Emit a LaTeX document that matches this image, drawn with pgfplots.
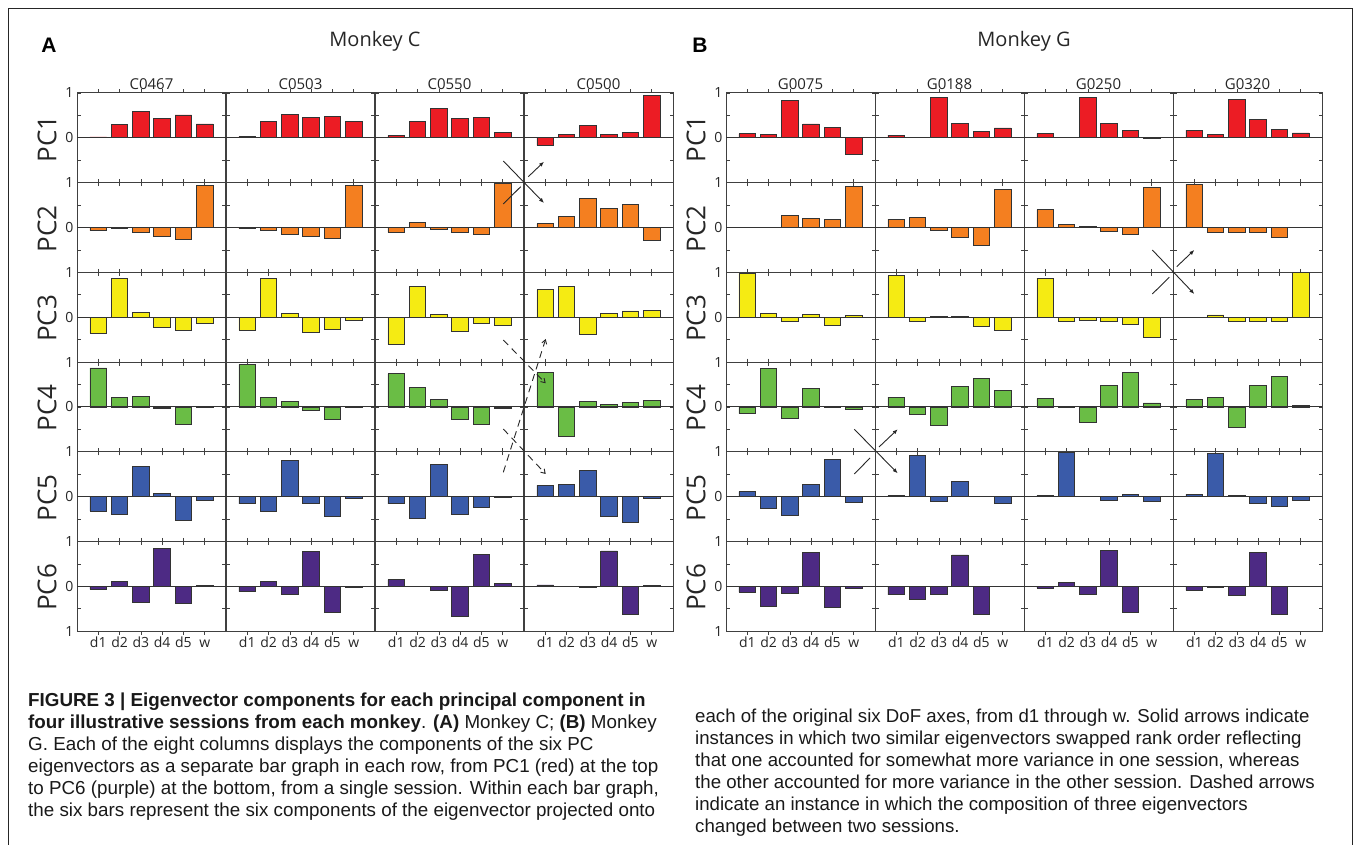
\documentclass[border=0pt]{standalone}
\usepackage{fontspec}
\setmainfont{Open Sans}
\newfontfamily\capfont{Liberation Sans}
\usepackage{pgfplots}
\pgfplotsset{compat=1.18}
\usepackage{pgfplotstable}
\usetikzlibrary{arrows.meta}

\definecolor{pc1}{HTML}{EC1C24}
\definecolor{pc2}{HTML}{F47F20}
\definecolor{pc3}{HTML}{F5EB13}
\definecolor{pc4}{HTML}{6ABD45}
\definecolor{pc5}{HTML}{3A5BA9}
\definecolor{pc6}{HTML}{4D2A84}
\definecolor{edgec}{HTML}{333333}

\newcommand\ticfont{\fontsize{14}{16}\selectfont}
\newcommand\titfont{\fontsize{15}{18}\selectfont}
\newcommand\pcfont{\fontsize{26}{30}\selectfont}
\newcommand\monfont{\fontsize{20}{24}\selectfont}
\newcommand\abfont{\capfont\bfseries\fontsize{21}{24}\selectfont}
\newcommand\capf{\capfont\fontsize{18.8}{22}\selectfont}
\newcommand\capg{\capfont\fontsize{18.65}{22}\selectfont}

% columns: x=d1..w (1..6), pc1..pc6
\pgfplotstableread{
x pc1 pc2 pc3 pc4 pc5 pc6
1 0.02 -0.07 -0.36 0.87 -0.32 -0.07
2 0.30 -0.01 0.86 0.22 -0.40 0.10
3 0.59 -0.11 0.10 0.24 0.68 -0.35
4 0.43 -0.19 -0.22 -0.04 0.07 0.85
5 0.51 -0.26 -0.29 -0.39 -0.54 -0.39
6 0.31 0.94 -0.13 -0.01 -0.09 0.02
}\tCa
\pgfplotstableread{
x pc1 pc2 pc3 pc4 pc5 pc6
1 0.03 -0.03 -0.29 0.95 -0.16 -0.12
2 0.37 -0.06 0.86 0.21 -0.34 0.10
3 0.53 -0.16 0.08 0.12 0.80 -0.19
4 0.46 -0.20 -0.33 -0.07 -0.14 0.78
5 0.48 -0.25 -0.28 -0.27 -0.45 -0.59
6 0.36 0.93 -0.08 -0.02 -0.04 -0.03
}\tCb
\pgfplotstableread{
x pc1 pc2 pc3 pc4 pc5 pc6
1 0.05 -0.11 -0.61 0.74 -0.16 0.15
2 0.37 0.11 0.68 0.44 -0.48 0.00
3 0.66 -0.04 0.07 0.16 0.72 -0.08
4 0.44 -0.10 -0.31 -0.28 -0.40 -0.67
5 0.46 -0.16 -0.14 -0.39 -0.25 0.72
6 0.13 0.98 -0.19 -0.04 -0.02 0.07
}\tCc
\pgfplotstableread{
x pc1 pc2 pc3 pc4 pc5 pc6
1 -0.17 0.09 0.61 0.76 0.25 0.03
2 0.08 0.25 0.68 -0.65 0.28 0.00
3 0.27 0.65 -0.39 0.12 0.58 -0.02
4 0.07 0.42 0.09 0.05 -0.45 0.79
5 0.12 0.52 0.14 0.10 -0.57 -0.62
6 0.94 -0.29 0.16 0.14 -0.04 0.02
}\tCd
\pgfplotstableread{
x pc1 pc2 pc3 pc4 pc5 pc6
1 0.09 0.00 0.98 -0.15 0.11 -0.13
2 0.07 0.01 0.09 0.86 -0.27 -0.44
3 0.83 0.26 -0.09 -0.26 -0.41 -0.16
4 0.31 0.20 0.06 0.42 0.28 0.76
5 0.24 0.19 -0.18 0.01 0.83 -0.47
6 -0.38 0.92 0.03 -0.05 -0.13 -0.05
}\tGa
\pgfplotstableread{
x pc1 pc2 pc3 pc4 pc5 pc6
1 0.06 0.19 0.93 0.22 0.02 -0.19
2 0.01 0.22 -0.09 -0.17 0.92 -0.29
3 0.90 -0.07 0.01 -0.41 -0.11 -0.17
4 0.33 -0.23 0.02 0.46 0.34 0.70
5 0.15 -0.39 -0.21 0.64 0.00 -0.63
6 0.22 0.85 -0.30 0.37 -0.16 0.00
}\tGb
\pgfplotstableread{
x pc1 pc2 pc3 pc4 pc5 pc6
1 0.10 0.40 0.87 0.19 0.03 -0.04
2 0.01 0.07 -0.09 0.01 0.99 0.09
3 0.91 0.02 -0.07 -0.35 0.01 -0.18
4 0.32 -0.09 -0.10 0.48 -0.09 0.80
5 0.16 -0.16 -0.16 0.77 0.04 -0.58
6 -0.01 0.89 -0.45 0.09 -0.10 -0.01
}\tGc
\pgfplotstableread{
x pc1 pc2 pc3 pc4 pc5 pc6
1 0.17 0.96 -0.01 0.16 0.05 -0.09
2 0.07 -0.11 0.05 0.22 0.96 -0.03
3 0.86 -0.10 -0.09 -0.46 0.02 -0.20
4 0.41 -0.10 -0.09 0.48 -0.14 0.76
5 0.19 -0.22 -0.09 0.68 -0.22 -0.63
6 0.11 0.00 0.99 0.04 -0.09 0.00
}\tGd

\pgfplotsset{
  cell/.style={
    scale only axis, width=149pt, height=89.7pt, anchor=north west,
    xmin=0, xmax=7, ymin=-1, ymax=1,
    xtick={1,2,3,4,5,6}, ytick={-1,-0.5,0,0.5,1},
    tick align=inside, major tick length=3.5pt,
    every tick/.style={black!75, line width=0.7pt},
    axis line style={black!75, line width=1pt},
    ybar, bar width=0.78, bar shift=0pt,
    ticklabel style={font=\ticfont, text=black!85},
    xticklabel style={text height=1.5ex, text depth=0.25ex, yshift=-1pt},
  },
}

\newcommand\session[4]{%
  \foreach \r in {1,...,6}{%
    \pgfmathsetmacro\ytop{752-89.7*(\r-1)}%
    \ifnum#4=1 \def\ylabs{{},{},0,{},1}\else\def\ylabs{{},{},{},{},{}}\fi
    \ifnum\r=6
      \def\xlabs{d1,d2,d3,d4,d5,w}%
      \ifnum#4=1 \def\ylabs{1,{},0,{},1}\fi
    \else
      \def\xlabs{{},{},{},{},{},{}}%
    \fi
    \begin{axis}[cell, at={(#2pt,\ytop pt)},
        xticklabels/.expanded=\xlabs, yticklabels/.expanded=\ylabs]
      \addplot[fill=pc\r, draw=edgec, line width=0.8pt] table[x index=0, y index=\r] {#1};
      \draw[black!80, line width=0.9pt] (axis cs:0,0) -- (axis cs:7,0);
    \end{axis}
  }%
  \node[font=\titfont, text=black!85] at (#2+74.5, 761) {#3};
}

\begin{document}
\begin{tikzpicture}[x=1pt, y=1pt]
\useasboundingbox (0,0) rectangle (1354,845);
% frame
\draw[line width=1pt, black!85] (8,0) -- (8,836) -- (1352.5,836) -- (1352.5,0);

% panel A
\session{\tCa}{77}{C0467}{1}
\session{\tCb}{226}{C0503}{0}
\session{\tCc}{375}{C0550}{0}
\session{\tCd}{524}{C0500}{0}
% panel B
\session{\tGa}{726}{G0075}{1}
\session{\tGb}{875}{G0188}{0}
\session{\tGc}{1024}{G0250}{0}
\session{\tGd}{1173}{G0320}{0}

\node[font=\abfont] at (49,800) {A};
\node[font=\abfont] at (700,800) {B};
\node[font=\monfont, text=black!85] at (375,804) {Monkey C};
\node[font=\monfont, text=black!85] at (1024,804) {Monkey G};

\foreach \k in {1,...,6}{
  \pgfmathsetmacro\yc{845-139-89.7*(\k-1)}
  \node[font=\pcfont, rotate=90, text=black!85] at (47,\yc) {PC\k};
  \node[font=\pcfont, rotate=90, text=black!85] at (696,\yc) {PC\k};
}

% solid arrows (swapped rank order)
\begin{scope}[line width=0.9pt, black!85]
  \draw[-{Latex[length=5pt,width=4pt]}] (503.3,684) -- (544,642);
  \draw (503.3,641) -- (520.7,658.3);
  \draw[-{Latex[length=5pt,width=4pt]}] (528.3,668.3) -- (544,683.3);

  \draw[-{Latex[length=5pt,width=4pt]}] (1152.3,595) -- (1194.3,551);
  \draw (1152.3,551) -- (1169.3,567.7);
  \draw[-{Latex[length=5pt,width=4pt]}] (1176.7,578.3) -- (1194.3,595);

  \draw[-{Latex[length=5pt,width=4pt]}] (854.3,415.7) -- (897.7,371.7);
  \draw (854.3,371) -- (870,387);
  \draw[-{Latex[length=5pt,width=4pt]}] (879,398) -- (897.7,415.7);
\end{scope}
% dashed arrows
\begin{scope}[line width=0.9pt, black!85, dash pattern=on 7pt off 5pt]
  \draw[-{Straight Barb[length=4pt,width=5pt]}] (503.3,505) -- (545.7,461.7);
  \draw[-{Straight Barb[length=4pt,width=5pt]}] (503.3,372.7) -- (545.7,506);
  \draw[-{Straight Barb[length=4pt,width=5pt]}] (503.3,416) -- (545.7,371);
\end{scope}

% caption
\begin{scope}[every node/.style={anchor=base west, font=\capf, text=black!90, inner sep=0pt}]
\node at (28,138) {\textbf{FIGURE 3 | Eigenvector components for each principal component in}};
\node at (28,116) {\textbf{four illustrative sessions from each monkey}. \textbf{(A)} Monkey C; \textbf{(B)} Monkey};
\node at (28,94) {G. Each of the eight columns displays the components of the six PC};
\node at (28,72) {eigenvectors as a separate bar graph in each row, from PC1 (red) at the top};
\node at (28,50) {to PC6 (purple) at the bottom, from a single session. Within each bar graph,};
\node at (28,28) {the six bars represent the six components of the eigenvector projected onto};
\end{scope}
\begin{scope}[every node/.style={anchor=base west, font=\capg, text=black!90, inner sep=0pt}]
\node at (695,122) {each of the original six DoF axes, from d1 through w. Solid arrows indicate};
\node at (695,100) {instances in which two similar eigenvectors swapped rank order reflecting};
\node at (695,78) {that one accounted for somewhat more variance in one session, whereas};
\node at (695,56) {the other accounted for more variance in the other session. Dashed arrows};
\node at (695,34) {indicate an instance in which the composition of three eigenvectors};
\node at (695,12) {changed between two sessions.};
\end{scope}
\end{tikzpicture}
\end{document}
